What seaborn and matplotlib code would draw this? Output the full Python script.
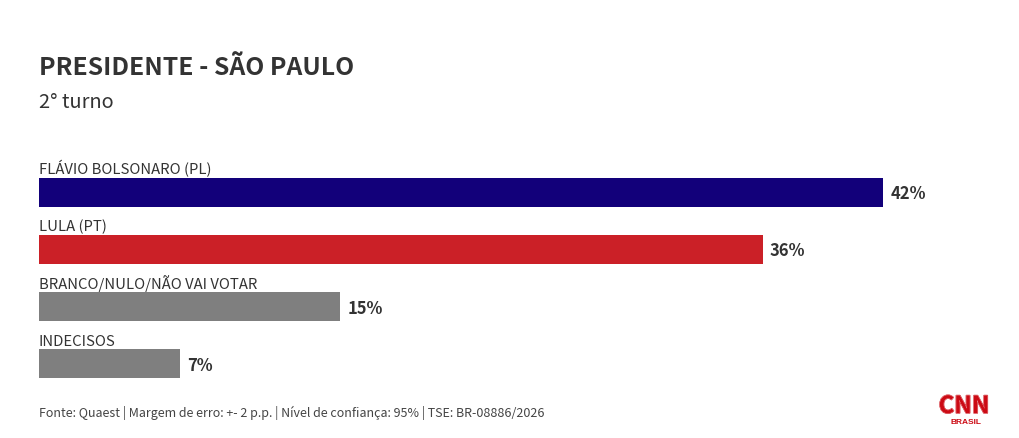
import matplotlib.pyplot as plt
import matplotlib.patheffects as pe
import seaborn as sns
import pandas as pd

candidatos = ['FLÁVIO BOLSONARO (PL)', 'LULA (PT)', 'BRANCO/NULO/NÃO VAI VOTAR', 'INDECISOS']
valores = [42, 36, 15, 7]
cores = ['#12007a', '#cb2027', '#7f7f7f', '#7f7f7f']

titulo = 'PRESIDENTE - SÃO PAULO'
subtitulo = '2° turno'
fonte = 'Fonte: Quaest | Margem de erro: +- 2 p.p. | Nível de confiança: 95% | TSE: BR-08886/2026'

sns.set_theme(style='white')
plt.rcParams['font.family'] = ['Noto Sans CJK SC', 'DejaVu Sans']

W, H = 1020, 439
df = pd.DataFrame({'nome': candidatos, 'valor': valores})

fig = plt.figure(figsize=(W / 100, H / 100), dpi=100, facecolor='white')
# eixo em pixels: 0% em x=39, 20.1 px por ponto
ax = fig.add_axes([39 / W, 1 - 393.2 / H, 20.1 * 46 / W, 228.5 / H])
sns.barplot(data=df, y='nome', x='valor', hue='nome', palette=cores, legend=False,
            width=0.51, saturation=1, linewidth=0, ax=ax)
ax.set_xlim(0, 46)
ax.set_xlabel('')
ax.set_ylabel('')
ax.set_xticks([])
ax.set_yticks([])
sns.despine(ax=ax, left=True, bottom=True)

for i, (nome, v) in enumerate(zip(candidatos, valores)):
    ax.annotate(nome, (0, i), xytext=(0, 16), textcoords='offset pixels', ha='left', va='bottom',
                fontsize=10.7, color='#333333')
    ax.annotate(f'{v}%', (v, i), xytext=(7, -1), textcoords='offset pixels', ha='left', va='center',
                fontsize=11.9, fontweight='bold', color='#333333')

fig.text(39 / W, 1 - 68 / H, titulo, fontsize=17.8, fontweight='bold', color='#333333', va='center')
fig.text(39 / W, 1 - 102.5 / H, subtitulo, fontsize=14.4, color='#333333', va='center')
fig.text(39 / W, 1 - 413 / H, fonte, fontsize=8.97, color='#444444', va='center')

# logo
logo = fig.text(964 / W, 1 - 407 / H, 'CNN', fontsize=17, fontweight='bold', color='#cc0a14',
                ha='center', va='center')
logo.set_path_effects([pe.Stroke(linewidth=1.0, foreground='#cc0a14'),
                       pe.Stroke(linewidth=0.4, foreground='#f4c8ca'),
                       pe.Normal()])
fig.text(965.5 / W, 1 - 422.5 / H, 'BRASIL', fontsize=6, fontweight='bold', color='#cc0a14',
         ha='center', va='center', family=['Liberation Sans', 'DejaVu Sans'])

fig.savefig('out.png', dpi=100)
